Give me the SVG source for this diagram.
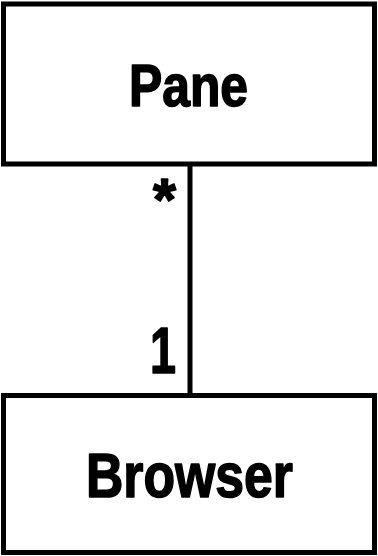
<svg xmlns="http://www.w3.org/2000/svg" width="378" height="556" viewBox="0 0 378 556">
<style>
.box{fill:#fff;stroke:#000;stroke-width:5}
.lbl{font-family:"Liberation Sans",Arial,sans-serif;font-weight:bold;fill:#000;stroke:#000;stroke-width:1.6;stroke-linejoin:round}
.conn{stroke:#000;stroke-width:5;fill:none}
</style>
<rect width="378" height="556" fill="#fff"/>
<g id="connectors">
<line class="conn" x1="190" y1="164" x2="190" y2="395"/>
<text class="lbl" x="153" y="220" font-size="60" textLength="23" lengthAdjust="spacingAndGlyphs">*</text>
<text class="lbl" x="150" y="373" font-size="65" textLength="26" lengthAdjust="spacingAndGlyphs">1</text>
</g>
<g id="pane">
<rect class="box" x="3.5" y="4" width="371" height="160"/>
<text class="lbl" x="129" y="106" font-size="60" textLength="119" lengthAdjust="spacingAndGlyphs">Pane</text>
</g>
<g id="browser">
<rect class="box" x="3.5" y="395.5" width="371" height="157"/>
<text class="lbl" x="86" y="497" font-size="63" textLength="207" lengthAdjust="spacingAndGlyphs">Browser</text>
</g>
</svg>
